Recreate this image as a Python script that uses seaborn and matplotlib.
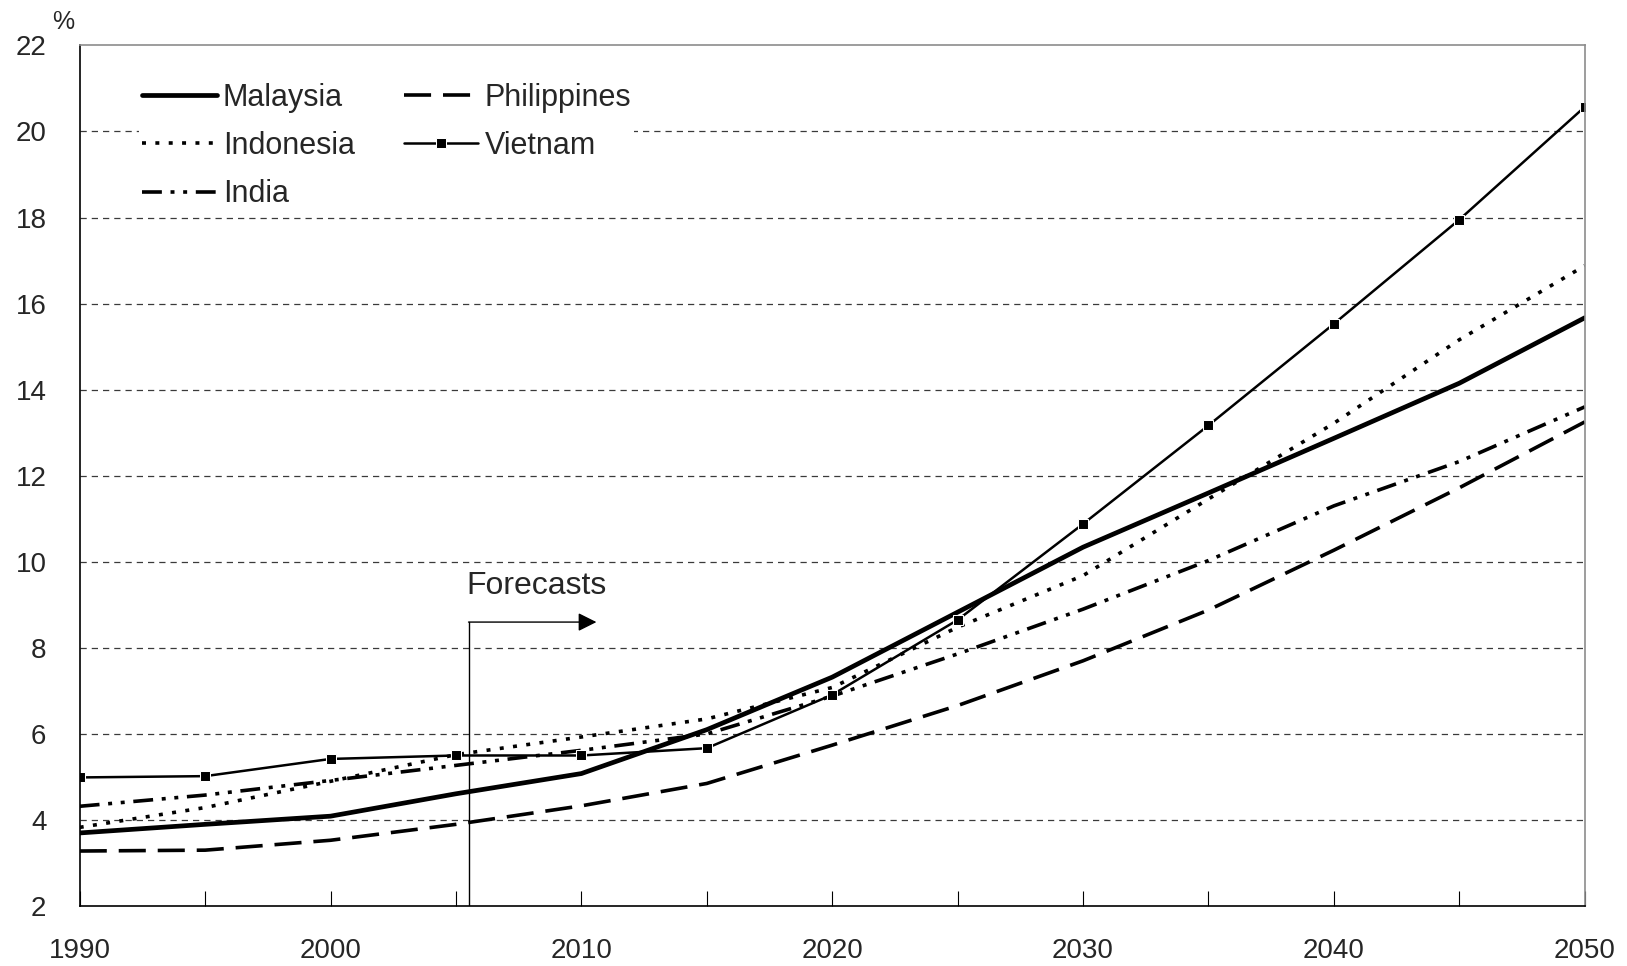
import numpy as np
import pandas as pd
import seaborn as sns
import matplotlib.pyplot as plt
from matplotlib.ticker import MultipleLocator

# share of population aged 65+, %
years = [1990, 1995, 2000, 2005, 2010, 2015, 2020, 2025, 2030, 2035, 2040, 2045, 2050]
malaysia = [3.70, 3.90, 4.09, 4.61, 5.08, 6.10, 7.32, 8.83, 10.34, 11.60, 12.87, 14.15, 15.67]
indonesia = [3.83, 4.29, 4.90, 5.52, 5.93, 6.35, 7.08, 8.48, 9.68, 11.46, 13.22, 15.16, 16.88]
india = [4.32, 4.58, 4.92, 5.27, 5.62, 6.00, 6.88, 7.86, 8.90, 10.03, 11.30, 12.33, 13.60]
philippines = [3.28, 3.30, 3.53, 3.90, 4.33, 4.85, 5.74, 6.66, 7.70, 8.88, 10.27, 11.72, 13.25]
vietnam = [4.99, 5.02, 5.42, 5.50, 5.50, 5.67, 6.91, 8.65, 10.88, 13.17, 15.53, 17.95, 20.57]

# forecast marker
forecast_x = 2005.5
forecast_arrow_end = 2010.6
forecast_y = 8.6

series = {
    "Malaysia": malaysia,
    "Indonesia": indonesia,
    "India": india,
    "Philippines": philippines,
    "Vietnam": vietnam,
}

styles = {
    "Malaysia": dict(linewidth=3.4, linestyle="-"),
    "Indonesia": dict(linewidth=2.6, linestyle=(0, (1.1, 2.6))),
    "India": dict(linewidth=2.6, linestyle=(0, (5.5, 2.4, 1.1, 2.4, 1.1, 2.4))),
    "Philippines": dict(linewidth=2.6, linestyle=(0, (7.5, 3.3))),
    "Vietnam": dict(linewidth=1.8, linestyle="-", marker="s", markersize=7.5),
}

sns.set_theme(style="white")
plt.rcParams["font.family"] = ["Liberation Sans", "DejaVu Sans"]

fig = plt.figure(figsize=(16.27, 9.66), dpi=100)
ax = fig.add_axes([0.049, 0.062, 0.925, 0.891])

df = pd.DataFrame(series, index=years)
df.index.name = "year"
long = df.reset_index().melt(id_vars="year", var_name="country", value_name="share")

for name in series:
    sub = long[long["country"] == name]
    sns.lineplot(data=sub, x="year", y="share", ax=ax, color="black",
                 label=name, **styles[name])

ax.set_xlim(1990, 2050)
ax.set_ylim(2, 22)
ax.set_yticks(range(2, 23, 2))
ax.xaxis.set_major_locator(MultipleLocator(10))
ax.xaxis.set_minor_locator(MultipleLocator(5))
ax.set_xlabel("")
ax.set_ylabel("")

ax.yaxis.grid(True, color="#3a3a3a", linestyle=(0, (5, 4)), linewidth=0.9)
ax.set_axisbelow(True)
gl = ax.get_ygridlines()
gl[0].set_visible(False)
gl[-1].set_visible(False)

ax.tick_params(axis="x", which="both", direction="in", length=11, width=0.8,
               color="black", pad=23, labelsize=20, bottom=True)
ax.tick_params(axis="y", length=0, pad=24, labelsize=20)

for side in ["left", "bottom"]:
    ax.spines[side].set_color("black")
    ax.spines[side].set_linewidth(1.2)
for side in ["top", "right"]:
    ax.spines[side].set_color("#8c8c8c")
    ax.spines[side].set_linewidth(1.2)

# forecasts arrow
ax.plot([forecast_x, forecast_x], [2, forecast_y], color="black", linewidth=1.0)
ax.annotate("", xy=(forecast_arrow_end, forecast_y), xytext=(forecast_x, forecast_y),
            arrowprops=dict(arrowstyle="-|>", color="black", linewidth=1.0,
                            mutation_scale=28, shrinkA=0, shrinkB=0))
ax.text(forecast_x - 0.1, forecast_y + 0.5, "Forecasts", ha="left", va="bottom",
        fontsize=23)

handles, labels = ax.get_legend_handles_labels()
leg = ax.legend(handles, labels, ncol=2, loc="upper left",
                bbox_to_anchor=(0.029, 0.978), frameon=True, facecolor="white",
                edgecolor="none", framealpha=1, fancybox=False, fontsize=22,
                handlelength=2.45, handletextpad=0.2, columnspacing=1.6,
                labelspacing=0.6, borderpad=0.1, numpoints=1)

fig.text(0.039, 0.977, "%", ha="center", va="center", fontsize=18)

fig.savefig("out.png", dpi=100, facecolor="white")
